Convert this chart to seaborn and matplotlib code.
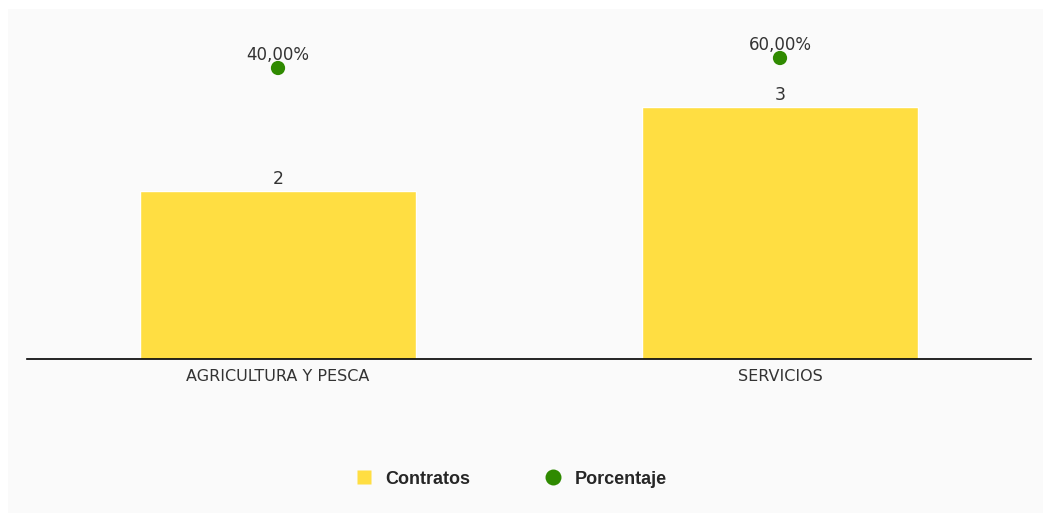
import pandas as pd
import matplotlib.pyplot as plt
import seaborn as sns
from matplotlib.patches import Rectangle
from matplotlib.lines import Line2D

# Data
sectores = ["AGRICULTURA Y PESCA", "SERVICIOS"]
contratos = [2, 3]
porcentaje = [40.0, 60.0]

df = pd.DataFrame({"sector": sectores, "contratos": contratos, "porcentaje": porcentaje})

bar_color = "#FFDE42"
dot_color = "#2F8A00"
text_color = "#333333"

sns.set_theme(style="white")
plt.rcParams["font.family"] = ["DejaVu Sans"]

fig = plt.figure(figsize=(10.51, 5.22), dpi=100)
fig.patch.set_facecolor("white")
# light grey panel behind the chart
fig.patches.append(Rectangle((8 / 1051, 1 - 513 / 522), 1035 / 1051, 504 / 522,
                             transform=fig.transFigure, facecolor="#FAFAFA",
                             edgecolor="none", zorder=-1))

ax = fig.add_axes([27 / 1051, 1 - 359 / 522, 1004 / 1051, 336 / 522])
ax.set_facecolor("none")

sns.barplot(data=df, x="sector", y="contratos", color=bar_color, width=0.55,
            saturation=1, ax=ax, zorder=2)
for i, v in enumerate(contratos):
    ax.text(i, v + 0.04, f"{v}", ha="center", va="bottom", fontsize=12.5, color=text_color)

ax.set_xlim(-0.5, 1.5)
ax.set_ylim(0, 4)
ax.set_xlabel("")
ax.set_ylabel("")
ax.set_yticks([])
ax.tick_params(axis="x", length=0, pad=7, labelsize=11.5, labelcolor=text_color)
for s in ["top", "right", "left"]:
    ax.spines[s].set_visible(False)
ax.spines["bottom"].set_color("black")
ax.spines["bottom"].set_linewidth(1.2)

# secondary axis for percentages
ax2 = ax.twinx()
sns.scatterplot(data=df, x="sector", y="porcentaje", color=dot_color, s=105,
                edgecolor="none", ax=ax2, zorder=3)
for i, p in enumerate(porcentaje):
    ax2.text(i, p + 8, f"{p:.2f}%".replace(".", ","), ha="center", va="bottom",
             fontsize=12, color=text_color, zorder=2)
ax2.set_ylim(-542, 130)
ax2.set_xlim(-0.5, 1.5)
ax2.set_ylabel("")
ax2.set_yticks([])
for s in ["top", "right", "left", "bottom"]:
    ax2.spines[s].set_visible(False)

handles = [
    Line2D([0], [0], marker="s", linestyle="none", markersize=9.5,
           markerfacecolor=bar_color, markeredgecolor="none"),
    Line2D([0], [0], marker="o", linestyle="none", markersize=11.5,
           markerfacecolor=dot_color, markeredgecolor="none"),
]
leg = fig.legend(handles, ["Contratos", "Porcentaje"], loc="center",
                 bbox_to_anchor=(511 / 1051, 1 - 479 / 522), ncol=2, frameon=False,
                 handlelength=1.0, columnspacing=4.1, handletextpad=0.7,
                 prop={"family": "Liberation Sans", "weight": "bold", "size": 13})

fig.savefig("out.png", dpi=100)
